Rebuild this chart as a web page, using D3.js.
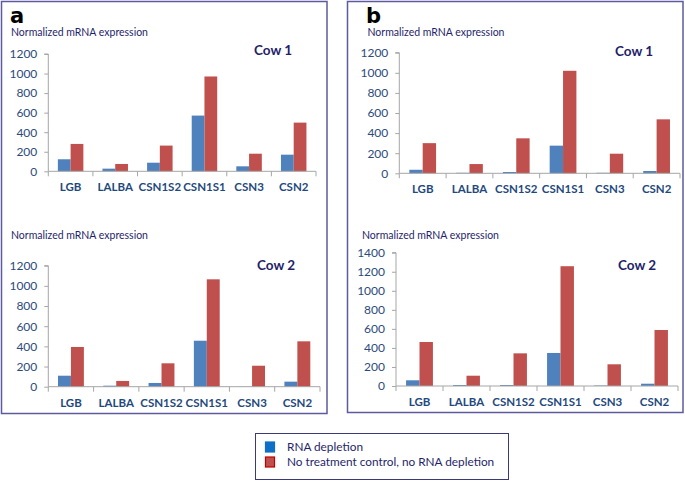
<!DOCTYPE html>
<html><head><meta charset="utf-8">
<script src="https://cdn.jsdelivr.net/npm/d3@7"></script>
<style>body{margin:0;background:#fff}svg{display:block}</style>
</head><body>
<svg id="c" width="685" height="481"></svg>
<script>
const categories = ["LGB","LALBA","CSN1S2","CSN1S1","CSN3","CSN2"];
const aCow1Depletion = [123, 27, 88, 570, 51, 170];
const aCow1Control   = [280, 75, 263, 970, 180, 498];
const aCow2Depletion = [109, 10, 37, 456, 2, 50];
const aCow2Control   = [394, 57, 232, 1065, 208, 450];
const bCow1Depletion = [35, 5, 13, 275, 5, 23];
const bCow1Control   = [300, 92, 348, 1020, 195, 537];
const bCow2Depletion = [60, 10, 10, 347, 5, 24];
const bCow2Control   = [462, 108, 343, 1258, 228, 588];
const ticks1200 = [0,200,400,600,800,1000,1200];
const ticks1400 = [0,200,400,600,800,1000,1200,1400];
const seriesNames = ["RNA depletion","No treatment control, no RNA depletion"];
const panelLetters = ["a","b"];
const cowTitles = ["Cow 1","Cow 2"];
const yTitle = "Normalized mRNA expression";

const BLUE="#4f81bd", RED="#c0504d", NAVY="#1f1f6b", LBL="#1f497d", AX="#a6a6a6";
const FONT="Lato, 'Open Sans', sans-serif";
const svg = d3.select("#c");

// panel frames
const frame = "#5d5a9e";
svg.append("rect").attr("x",1.5).attr("y",1.5).attr("width",325.5).attr("height",412).attr("fill","none").attr("stroke",frame).attr("stroke-width",1.5);
svg.append("rect").attr("x",347.5).attr("y",1.5).attr("width",335.5).attr("height",411).attr("fill","none").attr("stroke",frame).attr("stroke-width",1.5);

svg.append("text").attr("x",10).attr("y",23).text(panelLetters[0]).attr("font-family","'DejaVu Sans', sans-serif").attr("font-weight","bold").attr("font-size",21).attr("fill","#000");
svg.append("text").attr("x",366).attr("y",23).text(panelLetters[1]).attr("font-family","'DejaVu Sans', sans-serif").attr("font-weight","bold").attr("font-size",21).attr("fill","#000");

const plots = [
 {dep:aCow1Depletion, ctl:aCow1Control, ticks:ticks1200, xL:48.3, xR:316, yB:171.3, yT:54, titleX:11, titleY:32, cow:cowTitles[0], cowX:254, cowY:50},
 {dep:aCow2Depletion, ctl:aCow2Control, ticks:ticks1200, xL:48.3, xR:320, yB:386.7, yT:265.7, titleX:11, titleY:235, cow:cowTitles[1], cowX:257, cowY:265.7},
 {dep:bCow1Depletion, ctl:bCow1Control, ticks:ticks1200, xL:399.3, xR:680, yB:173.3, yT:52.7, titleX:367.5, titleY:32, cow:cowTitles[0], cowX:615, cowY:51.5},
 {dep:bCow2Depletion, ctl:bCow2Control, ticks:ticks1400, xL:396, xR:678, yB:386, yT:252.7, titleX:362, titleY:235, cow:cowTitles[1], cowX:618, cowY:265.7}
];

plots.forEach(p=>{
  const g = svg.append("g");
  const x = d3.scaleBand().domain(categories).range([p.xL,p.xR]).paddingInner(0).paddingOuter(0);
  const y = d3.scaleLinear().domain([0,d3.max(p.ticks)]).range([p.yB,p.yT]);
  const bw = x.bandwidth()/3.5;
  const sub = d3.scaleBand().domain([0,1]).range([0,2*bw]);

  g.append("text").attr("x",p.titleX).attr("y",p.titleY).attr("dy","0.35em").text(yTitle)
   .attr("font-family",FONT).attr("font-size",10.5).attr("fill",NAVY);
  g.append("text").attr("x",p.cowX).attr("y",p.cowY).attr("dy","0.35em").text(p.cow)
   .attr("font-family",FONT).attr("font-weight","bold").attr("font-size",13.5).attr("fill",NAVY);

  // y axis
  const ya = d3.axisLeft(y).tickValues(p.ticks).tickSize(4).tickPadding(7).tickFormat(d3.format("d"));
  const yg = g.append("g").attr("transform",`translate(${p.xL},0)`).call(ya);
  yg.select(".domain").attr("stroke",AX).attr("d",`M-4,${p.yT}H0V${p.yB}`);
  yg.selectAll(".tick line").attr("stroke",AX);
  yg.selectAll(".tick text").attr("font-family",FONT).attr("font-size",12).attr("fill","#2b4b7c");

  // bars
  categories.forEach((c,i)=>{
    const x0 = x(c) + (x.bandwidth()-2*bw)/2;
    [p.dep[i], p.ctl[i]].forEach((v,k)=>{
      g.append("rect").attr("x",x0+sub(k)).attr("width",bw)
       .attr("y",y(v)).attr("height",Math.max(0,y(0)-y(v)))
       .attr("fill",k===0?BLUE:RED);
    });
  });

  // x axis
  const xa = d3.axisBottom(x).tickSize(0).tickPadding(0);
  const xg = g.append("g").attr("transform",`translate(0,${p.yB})`).call(xa);
  xg.select(".domain").attr("stroke",AX).attr("d",`M${p.xL},0H${p.xR}`);
  xg.selectAll(".tick text").attr("y",16).attr("dy","0.35em").attr("font-family",FONT).attr("font-weight","bold").attr("font-size",11.5).attr("fill",LBL);
  const bounds = categories.map(c=>x(c)).concat([p.xR]);
  xg.selectAll(".bt").data(bounds).enter().append("line").attr("class","bt")
    .attr("x1",d=>d).attr("x2",d=>d).attr("y1",0).attr("y2",5).attr("stroke",AX);
});

// legend
const lg = svg.append("g");
lg.append("rect").attr("x",255.5).attr("y",433.5).attr("width",253).attr("height",46).attr("fill","#fff").attr("stroke","#3a3a7a").attr("stroke-width",1);
const legendColors = [{fill:"#0e6fc6",stroke:"#0e6fc6"},{fill:RED,stroke:"#c00000"}];
seriesNames.forEach((s,i)=>{
  const yy = 447 + i*15;
  lg.append("rect").attr("x",265.5).attr("y",yy-5).attr("width",9).attr("height",10)
    .attr("fill",legendColors[i].fill).attr("stroke",legendColors[i].stroke).attr("stroke-width",1.2);
  lg.append("text").attr("x",287).attr("y",yy).attr("dy","0.35em").text(s)
    .attr("font-family",FONT).attr("font-size",11.8).attr("fill",NAVY);
});
</script>
</body></html>
